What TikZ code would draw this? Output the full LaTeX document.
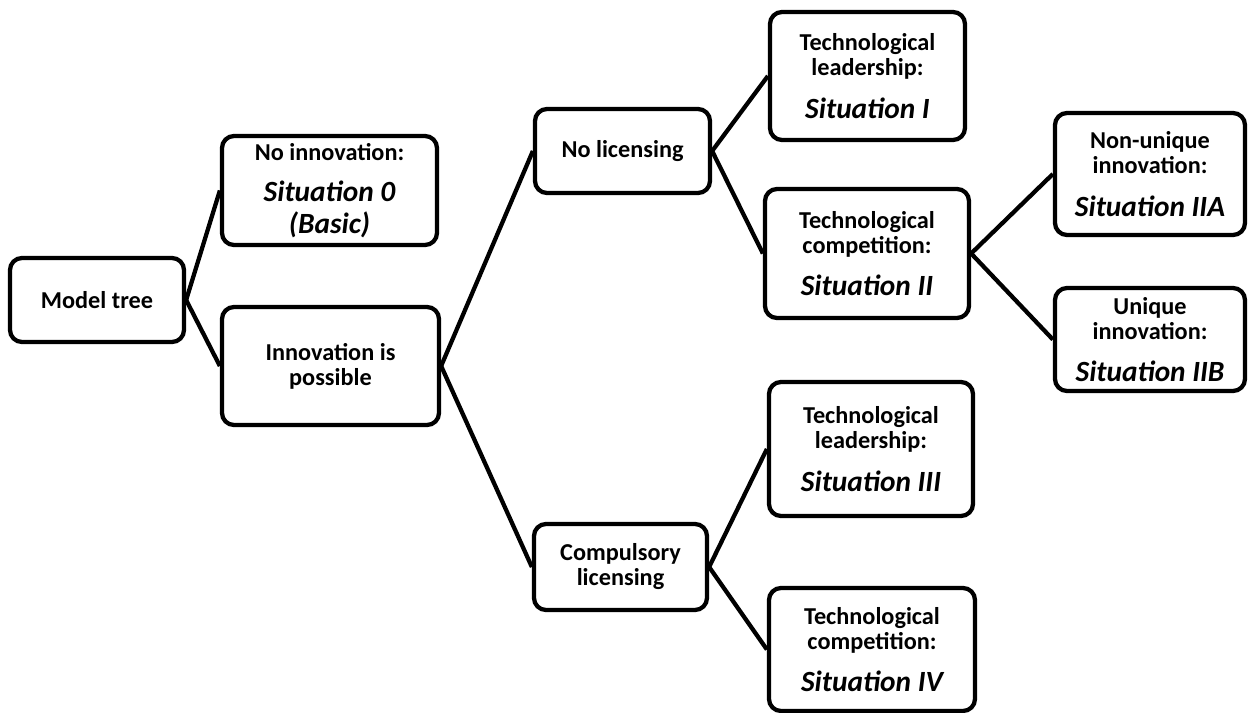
\documentclass[tikz,border=0pt]{standalone}
\usepackage{fontspec}
\setmainfont{Carlito}
\usepackage{tikz}
\tikzstyle{treebox}=[rectangle, draw, line width=3.2pt, rounded corners=9pt, inner sep=0pt, align=center, font=\fontsize{18.2}{18.75}\selectfont\bfseries]
\newcommand{\treebox}{\node[treebox]}
\newcommand{\sit}[1]{{\fontsize{22}{22}\selectfont\bfseries\itshape #1}}

\begin{document}
\begin{tikzpicture}[x=0.75pt, y=-0.75pt]
            \useasboundingbox (0,0) rectangle (1249,713);
            \treebox[minimum width=130.5pt, minimum height=63pt] (tree) at (97,300) {Model tree};
            \treebox[minimum width=161.25pt, minimum height=81.75pt] (noinn) at (329.5,190.5) {No innovation:\\[12pt]\sit{Situation 0}\\[5pt]\sit{(Basic)}};
            \treebox[minimum width=162.75pt, minimum height=88.5pt] (inn) at (330.5,366) {Innovation is\\possible};
            \treebox[minimum width=131.25pt, minimum height=63pt] (nolic) at (622.5,151) {No licensing};
            \treebox[minimum width=129.75pt, minimum height=64.5pt] (comp) at (620.5,567) {Compulsory\\licensing};
            \treebox[minimum width=146.25pt, minimum height=96pt] (sitI) at (867.5,76) {Technological\\leadership:\\[13pt]\sit{Situation I}};
            \treebox[minimum width=153pt, minimum height=96.75pt] (sitII) at (867,253.5) {Technological\\competition:\\[13pt]\sit{Situation II}};
            \treebox[minimum width=153pt, minimum height=100.5pt] (sitIII) at (871,449) {Technological\\leadership:\\[13pt]\sit{Situation III}};
            \treebox[minimum width=154.5pt, minimum height=92.25pt] (sitIV) at (872,649.5) {Technological\\competition:\\[13pt]\sit{Situation IV}};
            \treebox[minimum width=142.5pt, minimum height=91.5pt] (sitIIA) at (1150,174) {Non-unique\\innovation:\\[13pt]\sit{Situation IIA}};
            \treebox[minimum width=142.5pt, minimum height=77.25pt] (sitIIB) at (1150,339.5) {Unique\\innovation:\\[13pt]\sit{Situation IIB}};
            \path[line width=3.2pt]
                (tree.east) edge (noinn.west) edge (inn.west)
                (inn.east) edge (nolic.west) edge (comp.west)
                (nolic.east) edge (sitI.west) edge (sitII.west)
                (sitII.east) edge (sitIIA.west) edge (sitIIB.west)
                (comp.east) edge (sitIII.west) edge (sitIV.west)
            ;
        \end{tikzpicture}
\end{document}
